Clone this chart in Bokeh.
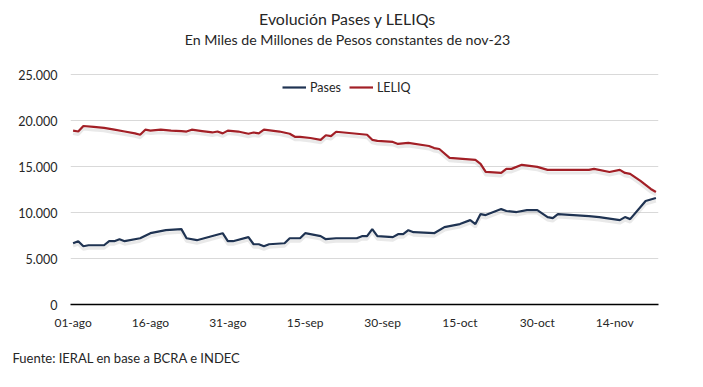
import pandas as pd
from bokeh.plotting import figure
from bokeh.models import (Range1d, FixedTicker, CustomJSTickFormatter, Title, Label,
                          Legend, LegendItem, ColumnDataSource)
from bokeh.embed import file_html
from bokeh.resources import INLINE

# ---------------- data ----------------
pases_dates = ["2023-08-01", "2023-08-02", "2023-08-03", "2023-08-04", "2023-08-07",
               "2023-08-08", "2023-08-09", "2023-08-10", "2023-08-11", "2023-08-14",
               "2023-08-16", "2023-08-19", "2023-08-22", "2023-08-23", "2023-08-25",
               "2023-08-30", "2023-08-31", "2023-09-01", "2023-09-04", "2023-09-05",
               "2023-09-06", "2023-09-07", "2023-09-08", "2023-09-11", "2023-09-12",
               "2023-09-14", "2023-09-15", "2023-09-18", "2023-09-19", "2023-09-21",
               "2023-09-25", "2023-09-26", "2023-09-27", "2023-09-28", "2023-09-29",
               "2023-10-02", "2023-10-03", "2023-10-04", "2023-10-05", "2023-10-06",
               "2023-10-10", "2023-10-12", "2023-10-15", "2023-10-17", "2023-10-18",
               "2023-10-19", "2023-10-20", "2023-10-23", "2023-10-24", "2023-10-26",
               "2023-10-28", "2023-10-30", "2023-11-01", "2023-11-02", "2023-11-03",
               "2023-11-09", "2023-11-11", "2023-11-15", "2023-11-16", "2023-11-17",
               "2023-11-20", "2023-11-22"]
pases_values = [6660, 6880, 6330, 6440, 6440,
                6880, 6880, 7100, 6880, 7200,
                7750, 8080, 8190, 7200, 6990,
                7750, 6880, 6880, 7320, 6550,
                6550, 6330, 6550, 6660, 7200,
                7200, 7750, 7430, 7100, 7200,
                7200, 7430, 7430, 8190, 7430,
                7320, 7640, 7640, 8080, 7860,
                7750, 8410, 8740, 9170, 8740,
                9830, 9720, 10370, 10160, 10050,
                10260, 10260, 9500, 9390, 9830,
                9610, 9500, 9170, 9500, 9280,
                11250, 11580]

leliq_dates = ["2023-08-01", "2023-08-02", "2023-08-03", "2023-08-05", "2023-08-07",
               "2023-08-09", "2023-08-11", "2023-08-13", "2023-08-14", "2023-08-15",
               "2023-08-16", "2023-08-18", "2023-08-20", "2023-08-22", "2023-08-23",
               "2023-08-24", "2023-08-26", "2023-08-28", "2023-08-29", "2023-08-30",
               "2023-08-31", "2023-09-02", "2023-09-04", "2023-09-05", "2023-09-06",
               "2023-09-07", "2023-09-10", "2023-09-12", "2023-09-13", "2023-09-14",
               "2023-09-16", "2023-09-18", "2023-09-19", "2023-09-20", "2023-09-21",
               "2023-09-27", "2023-09-28", "2023-09-29", "2023-10-02", "2023-10-03",
               "2023-10-05", "2023-10-09", "2023-10-10", "2023-10-11", "2023-10-13",
               "2023-10-18", "2023-10-19", "2023-10-20", "2023-10-23", "2023-10-24",
               "2023-10-25", "2023-10-27", "2023-10-30", "2023-11-01", "2023-11-09",
               "2023-11-10", "2023-11-13", "2023-11-15", "2023-11-16", "2023-11-17",
               "2023-11-19", "2023-11-21", "2023-11-22"]
leliq_values = [18900, 18800, 19400, 19300, 19200,
                19000, 18800, 18600, 18450, 19000,
                18900, 19000, 18900, 18850, 18800,
                19000, 18850, 18700, 18800, 18600,
                18900, 18800, 18560, 18700, 18600,
                19000, 18800, 18560, 18230, 18230,
                18100, 17900, 18400, 18300, 18780,
                18450, 17900, 17780, 17670, 17450,
                17560, 17230, 17000, 16900, 15940,
                15720, 15290, 14410, 14300, 14740,
                14740, 15180, 14960, 14630, 14630,
                14740, 14400, 14630, 14300, 14200,
                13430, 12560, 12230]

tick_dates = ["2023-08-01", "2023-08-16", "2023-08-31", "2023-09-15",
              "2023-09-30", "2023-10-15", "2023-10-30", "2023-11-14"]
tick_labels = ["01-ago", "16-ago", "31-ago", "15-sep",
               "30-sep", "15-oct", "30-oct", "14-nov"]
y_ticks = [0, 5000, 10000, 15000, 20000, 25000]

series_names = ["Pases", "LELIQ"]
title_text = "Evolución Pases y LELIQs"
subtitle_text = "En Miles de Millones de Pesos constantes de nov-23"
source_text = "Fuente: IERAL en base a BCRA e INDEC"

# ---------------- styles / layout ----------------
FONT = "Lato"
BLUE = "#1F3352"
RED = "#A21F26"
GRID = "#D9D9D9"
TEXT = "#262626"

W, H = 700, 384
LEFT, RIGHT, BOTTOM = 70, 658, 304      # plot frame edges (px)
AXIS_TOP_PX = 74                        # pixel row of the top tick (25.000)
FRAME_H = BOTTOM                        # frame extends to canvas top
y_max_tick = y_ticks[-1]
y_top = y_max_tick * FRAME_H / (FRAME_H - AXIS_TOP_PX)   # room for titles

pases_src = ColumnDataSource(dict(x=pd.to_datetime(pases_dates), y=pases_values))
leliq_src = ColumnDataSource(dict(x=pd.to_datetime(leliq_dates), y=leliq_values))

day = pd.Timedelta(days=1)
x_start = pd.Timestamp(tick_dates[0]) - 0.5 * day
x_end = pd.Timestamp(pases_dates[-1]) + 0.5 * day

p = figure(width=W, height=H, x_axis_type="datetime",
           x_range=Range1d(x_start, x_end), y_range=Range1d(0, y_top),
           output_backend="svg", toolbar_location=None,
           min_border_left=LEFT, min_border_right=W - RIGHT,
           min_border_top=0, min_border_bottom=H - BOTTOM)
p.outline_line_color = None
p.background_fill_color = "white"
p.border_fill_color = "white"
p.title.visible = False

# soft drop shadow: same lines drawn ~3px lower on a shifted range
px = y_top / FRAME_H
p.extra_y_ranges = {"shadow": Range1d(3 * px, y_top + 3 * px)}
for src in (pases_src, leliq_src):
    p.line("x", "y", source=src, y_range_name="shadow", line_color="#9A9A9A",
           line_alpha=0.22, line_width=3)

r_pases = p.line("x", "y", source=pases_src, line_color=BLUE, line_width=2.2)
r_leliq = p.line("x", "y", source=leliq_src, line_color=RED, line_width=2.2)

# axes
tick_ms = [int(pd.Timestamp(d).value // 10**6) for d in tick_dates]
p.xaxis.ticker = FixedTicker(ticks=tick_ms)
p.xaxis.major_label_overrides = {t: l for t, l in zip(tick_ms, tick_labels)}
p.xaxis.axis_line_color = "black"
p.xaxis.axis_line_width = 1.3
p.xaxis.major_tick_line_color = None
p.xaxis.minor_tick_line_color = None
p.xaxis.major_tick_out = 0
p.xaxis.major_tick_in = 0
p.xaxis.minor_tick_out = 0
p.xaxis.major_label_standoff = 10
p.xaxis.major_label_text_font = FONT
p.xaxis.major_label_text_font_size = "12px"
p.xaxis.major_label_text_color = TEXT

p.yaxis.ticker = FixedTicker(ticks=y_ticks)
p.yaxis.formatter = CustomJSTickFormatter(code="""
return Math.round(tick).toString().replace(/\\B(?=(\\d{3})+(?!\\d))/g, '.');
""")
p.yaxis.axis_line_color = None
p.yaxis.major_tick_line_color = None
p.yaxis.minor_tick_line_color = None
p.yaxis.major_tick_out = 0
p.yaxis.major_tick_in = 0
p.yaxis.minor_tick_out = 0
p.yaxis.major_label_standoff = 13
p.yaxis.major_label_text_font = FONT
p.yaxis.major_label_text_font_size = "12.5px"
p.yaxis.major_label_text_color = TEXT

p.xgrid.grid_line_color = None
p.ygrid.grid_line_color = GRID
p.ygrid.grid_line_width = 1

# legend (bottom-left corner, px from frame bottom-left)
legend = Legend(items=[LegendItem(label=series_names[0], renderers=[r_pases]),
                       LegendItem(label=series_names[1], renderers=[r_leliq])],
                orientation="horizontal", location=(285 - LEFT - 3, BOTTOM - 97),
                border_line_color=None, background_fill_alpha=0,
                margin=0, padding=3, spacing=8,
                glyph_width=24, label_standoff=4,
                label_text_font=FONT, label_text_font_size="12.5px",
                label_text_color=TEXT)
p.add_layout(legend)

# titles (screen px relative to frame bottom-left)
CX = 347 - LEFT
p.add_layout(Label(x=CX, y=BOTTOM - 18, x_units="screen", y_units="screen",
                   text=title_text, text_align="center", text_baseline="middle",
                   text_font=FONT, text_font_size="15.9px", text_color=TEXT))
p.add_layout(Label(x=CX, y=BOTTOM - 39, x_units="screen", y_units="screen",
                   text=subtitle_text, text_align="center", text_baseline="middle",
                   text_font=FONT, text_font_size="14.2px", text_color=TEXT))

src_title = Title(text=source_text, align="left", offset=-58, standoff=30,
                  text_font=FONT, text_font_size="13px", text_font_style="normal",
                  text_color=TEXT)
p.add_layout(src_title, "below")

open("out.html", "w").write(file_html(p, INLINE))
